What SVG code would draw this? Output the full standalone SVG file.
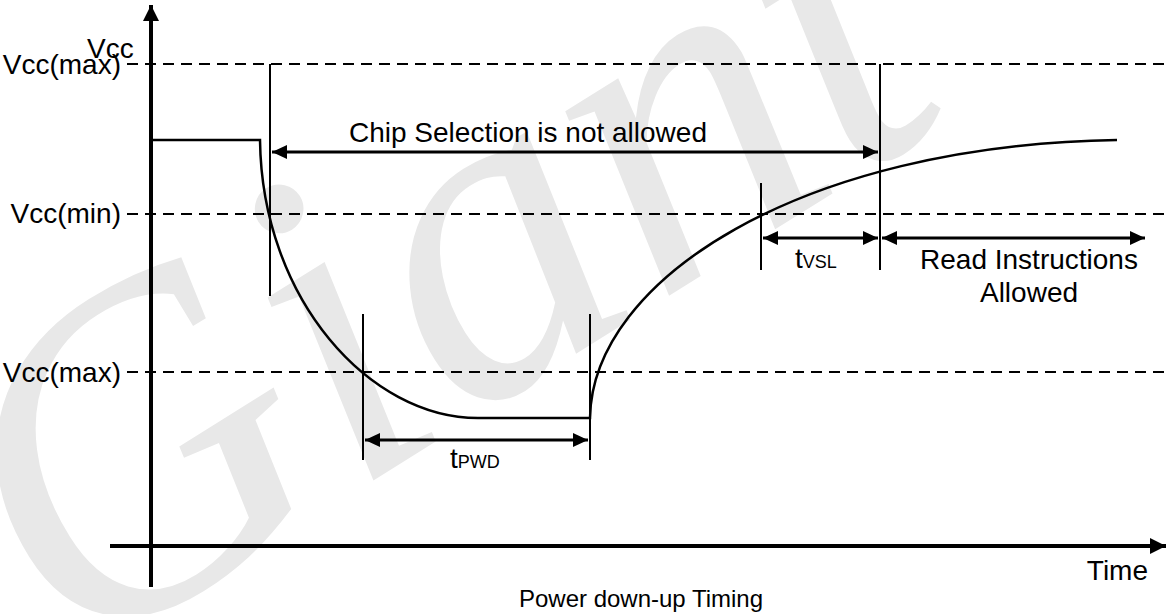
<svg xmlns="http://www.w3.org/2000/svg" width="1166" height="614" viewBox="0 0 1166 614">
<style>
.lbl{font-family:"Liberation Sans",Arial,sans-serif;font-size:28px;fill:#000}
.sub{font-size:18px}
.cap{font-size:24px}
.dash{stroke:#000;stroke-width:2;stroke-dasharray:11 7;fill:none}
.thin{stroke:#000;stroke-width:2;fill:none}
.wave{stroke:#000;stroke-width:2.5;fill:none}
.arr{stroke:#000;stroke-width:3;fill:none;marker-start:url(#ah);marker-end:url(#ah)}
.wm{font-family:"Liberation Serif","DejaVu Serif",serif;font-style:italic;fill:#e8e8e8}
</style>
<defs>
<marker id="ah" viewBox="0 0 15 14" refX="15" refY="7" markerWidth="15" markerHeight="14" markerUnits="userSpaceOnUse" orient="auto-start-reverse"><path d="M0,0 L15,7 L0,14 Z" fill="#000"/></marker>
<marker id="ax" viewBox="0 0 16 16" refX="16" refY="8" markerWidth="16" markerHeight="16" markerUnits="userSpaceOnUse" orient="auto"><path d="M0,0 L16,8 L0,16 Z" fill="#000"/></marker>
</defs>
<rect width="1166" height="614" fill="#fff"/>
<g id="watermark"><text class="wm" transform="translate(70,670) rotate(-32)" font-size="460">Giant</text></g>
<g id="axes">
<line x1="151" y1="587" x2="151" y2="5" stroke="#000" stroke-width="4" marker-end="url(#ax)"/>
<line x1="110" y1="546" x2="1166" y2="546" stroke="#000" stroke-width="4" marker-end="url(#ax)"/>
<text class="lbl" x="87" y="58">Vcc</text>
<text class="lbl" x="1148" y="580" text-anchor="end">Time</text>
</g>
<g id="levels">
<line class="dash" x1="127" y1="64" x2="1166" y2="64"/>
<line class="dash" x1="127" y1="214" x2="1166" y2="214"/>
<line class="dash" x1="127" y1="372" x2="1166" y2="372"/>
<text class="lbl" x="121" y="74" text-anchor="end">Vcc(max)</text>
<text class="lbl" x="121" y="223" text-anchor="end">Vcc(min)</text>
<text class="lbl" x="121" y="382" text-anchor="end">Vcc(max)</text>
</g>
<g id="waveform">
<path class="wave" d="M151,140 H260 C262,300 370,418 478,418 H590 C592,280 800,145 1117,140"/>
</g>
<g id="markers">
<line class="thin" x1="270" y1="64" x2="270" y2="296"/>
<line class="thin" x1="880" y1="64" x2="880" y2="270"/>
<line class="thin" x1="363" y1="314" x2="363" y2="460"/>
<line class="thin" x1="590" y1="314" x2="590" y2="460"/>
<line class="thin" x1="761" y1="183" x2="761" y2="270"/>
</g>
<g id="connectors">
<line class="arr" x1="272" y1="152" x2="878" y2="152"/>
<line class="arr" x1="763" y1="238" x2="878" y2="238"/>
<line class="arr" x1="882" y1="238" x2="1145" y2="238"/>
<line class="arr" x1="365" y1="440" x2="588" y2="440"/>
</g>
<g id="labels">
<text class="lbl" x="528" y="142" text-anchor="middle">Chip Selection is not allowed</text>
<text class="lbl" x="795" y="268">t<tspan class="sub">VSL</tspan></text>
<text class="lbl" x="1029" y="269" text-anchor="middle">Read Instructions</text>
<text class="lbl" x="1029" y="302" text-anchor="middle">Allowed</text>
<text class="lbl" x="450" y="468">t<tspan class="sub">PWD</tspan></text>
<text class="lbl cap" x="641" y="607" text-anchor="middle">Power down-up Timing</text>
</g>
</svg>
